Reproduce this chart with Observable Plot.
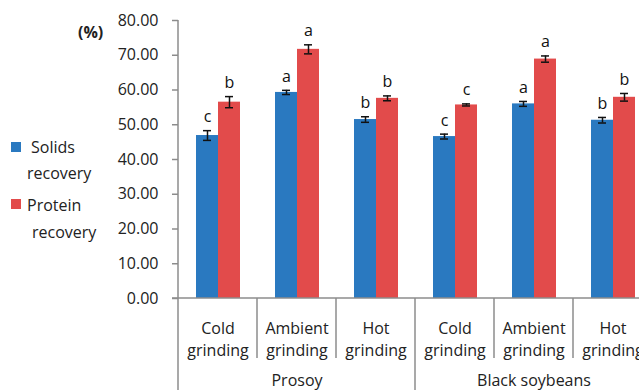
<!DOCTYPE html>
<html>
<head>
<meta charset="utf-8">
<script src="https://cdn.jsdelivr.net/npm/d3@7"></script>
<script src="https://cdn.jsdelivr.net/npm/@observablehq/plot@0.6"></script>
<style>
  html, body { margin: 0; padding: 0; background: #fff; overflow: hidden; }
  #wrap { position: relative; width: 639px; height: 390px; overflow: hidden; font-family: "Open Sans", sans-serif; color: #222; }
  #chart { position: absolute; left: 0; top: 0; width: 653px; }
  #chart svg { max-width: none !important; }
  .unit { position: absolute; left: 78px; top: 22px; font-size: 16px; font-weight: bold; line-height: 20px; }
  .leg { position: absolute; font-size: 16px; line-height: 20px; }
  .sw { position: absolute; width: 10px; height: 10px; }
</style>
</head>
<body>
<div id="wrap">
  <div id="chart"></div>
  <div class="unit">(%)</div>
  <div id="legend"></div>
</div>
<script>
// ---- data ----
const categories = ["Prosoy", "Black soybeans"];
const groups = ["Cold grinding", "Ambient grinding", "Hot grinding"];
const series = ["Solids recovery", "Protein recovery"];
const colors = ["#2a79c0", "#e24b4b"];
const solids = [46.9, 59.3, 51.5, 46.6, 56.0, 51.3];
const solidsErr = [1.4, 0.6, 0.8, 0.7, 0.7, 0.8];
const protein = [56.5, 71.7, 57.6, 55.7, 68.9, 57.9];
const proteinErr = [1.6, 1.3, 0.7, 0.3, 0.9, 1.1];
const solidsLetters = ["c", "a", "b", "c", "a", "b"];
const proteinLetters = ["b", "a", "b", "c", "a", "b"];
const yTicks = [0, 10, 20, 30, 40, 50, 60, 70, 80];

// ---- build table ----
const keys = [];
const rows = [];
categories.forEach((c, i) => {
  groups.forEach((g, j) => {
    const k = i * groups.length + j;
    const key = c + "|" + g;
    keys.push(key);
    rows.push({key, series: series[0], value: solids[k], err: solidsErr[k], letter: solidsLetters[k]});
    rows.push({key, series: series[1], value: protein[k], err: proteinErr[k], letter: proteinLetters[k]});
  });
});
const middleKeys = new Set(categories.map((c) => c + "|" + groups[Math.floor(groups.length / 2)]));

const W = 653, H = 390;
const plot = Plot.plot({
  width: W,
  height: H,
  marginLeft: 176,
  marginRight: 0,
  marginTop: 20,
  marginBottom: 92,
  style: {fontFamily: "Open Sans, sans-serif", fontSize: "16px", background: "transparent", maxWidth: "none"},
  fx: {domain: keys, padding: 0, label: null},
  x: {domain: series, paddingInner: 0, paddingOuter: 0.767, axis: null},
  y: {domain: [0, 80], label: null},
  color: {domain: series, range: colors},
  marks: [
    Plot.barY(rows, {fx: "key", x: "series", y: "value", fill: "series"}),
    Plot.ruleX(rows, {fx: "key", x: "series", y1: (d) => d.value - d.err, y2: (d) => d.value + d.err, stroke: "#111", strokeWidth: 1.5}),
    Plot.tickY(rows, {fx: "key", x: "series", y: (d) => d.value - d.err, stroke: "#111", strokeWidth: 1.5, insetLeft: 7, insetRight: 7}),
    Plot.tickY(rows, {fx: "key", x: "series", y: (d) => d.value + d.err, stroke: "#111", strokeWidth: 1.5, insetLeft: 7, insetRight: 7}),
    Plot.text(rows, {fx: "key", x: "series", y: (d) => d.value + d.err, text: "letter", dy: -8.5, lineAnchor: "bottom", fontSize: 16, fill: "#111"}),
    Plot.axisY({ticks: yTicks, tickFormat: (d) => d.toFixed(2), tickSize: 6, tickPadding: 14, stroke: "#8c8c8c", strokeWidth: 1.5, fill: "#222", fontSize: 16, label: null}),
    Plot.axisFx({anchor: "bottom", tickSize: 0, tickPadding: 20, lineHeight: 1.37, fontSize: 16, fill: "#222",
      tickFormat: (k) => k.split("|")[1].replace(" ", "\n"), label: null}),
    Plot.axisFx({anchor: "bottom", tickSize: 0, tickPadding: 76, fontSize: 16, fill: "#222",
      tickFormat: (k) => middleKeys.has(k) ? k.split("|")[0] : "", label: null})
  ]
});
plot.style.maxWidth = "none";
plot.style.width = W + "px";
plot.style.height = H + "px";
document.getElementById("chart").appendChild(plot);

// ---- axis lines and group separators from the plot's own scales ----
const fxs = plot.scale("fx");
const ys = plot.scale("y");
const y0 = ys.apply(0);
const yTop = ys.apply(80);
const svg = d3.select(plot);
const g = svg.append("g").attr("stroke", "#8c8c8c").attr("stroke-width", 1.5);
const x0 = fxs.apply(keys[0]);
g.append("line").attr("x1", x0).attr("x2", x0).attr("y1", yTop).attr("y2", H);
g.append("line").attr("x1", x0 - 6).attr("x2", W).attr("y1", y0).attr("y2", y0);
keys.forEach((k, i) => {
  if (i === 0) return;
  const x = fxs.apply(k);
  const outer = i % groups.length === 0;
  g.append("line").attr("x1", x).attr("x2", x).attr("y1", y0).attr("y2", outer ? H : y0 + 60);
});

// ---- legend ----
const legend = document.getElementById("legend");
const legPos = [
  {sw: [11, 142], lines: [[31, 137], [27, 163]]},
  {sw: [11, 199], lines: [[27, 195], [32, 222]]}
];
series.forEach((s, i) => {
  const p = legPos[i];
  const sw = document.createElement("div");
  sw.className = "sw";
  sw.style.left = p.sw[0] + "px";
  sw.style.top = p.sw[1] + "px";
  sw.style.background = colors[i];
  legend.appendChild(sw);
  s.split(" ").forEach((word, j) => {
    const t = document.createElement("div");
    t.className = "leg";
    t.textContent = word;
    t.style.left = p.lines[j][0] + "px";
    t.style.top = p.lines[j][1] + "px";
    legend.appendChild(t);
  });
});
</script>
</body>
</html>
